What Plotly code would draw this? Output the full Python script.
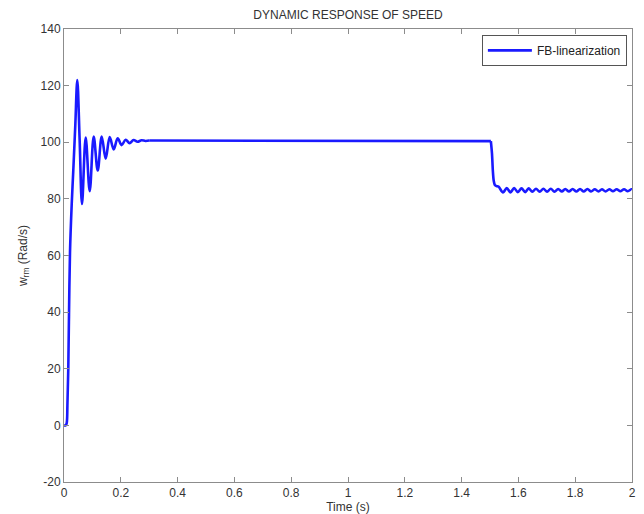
import plotly.graph_objects as go

# Speed response (rad/s)
# start-up transient
t_start = [0, 0.006, 0.0095, 0.012, 0.0151, 0.0176, 0.0211, 0.0271, 0.0327, 0.0398, 0.0468,
           0.055, 0.0634, 0.0764, 0.0905, 0.1046, 0.1187, 0.1328, 0.1468, 0.1609, 0.175,
           0.189, 0.203, 0.217, 0.231, 0.245, 0.259, 0.273, 0.287, 0.30]
w_start = [0, 0, 0.8, 7, 20, 39, 61, 78, 90, 106, 122,
           101, 78.2, 101.7, 82.7, 102.0, 90.0, 102.0, 94.2, 101.8, 97.5,
           101.4, 99.0, 100.9, 99.7, 100.8, 100.2, 100.7, 100.45, 100.6]
# steady state
t_mid = [0.30, 0.90, 0.901, 1.500, 1.503]
w_mid = [100.6, 100.6, 100.4, 100.4, 100.4]
# load step and ripple
t_end = [1.503, 1.507, 1.510, 1.513, 1.517, 1.523, 1.530, 1.546,
         1.559, 1.572, 1.585, 1.598, 1.611, 1.624, 1.636, 1.649, 1.662, 1.675,
         1.688, 1.701, 1.714, 1.727, 1.740, 1.753, 1.765, 1.778, 1.791, 1.804,
         1.817, 1.830, 1.843, 1.856, 1.869, 1.882, 1.894, 1.907, 1.920, 1.933,
         1.946, 1.959, 1.972, 1.985, 1.998, 2.0]
w_end = [100.4, 96.0, 90.0, 86.5, 84.9, 84.5, 84.3, 82.3,
         83.8, 82.3, 83.8, 82.4, 83.7, 82.4, 83.7, 82.5, 83.6, 82.5,
         83.6, 82.5, 83.6, 82.5, 83.5, 82.6, 83.5, 82.6, 83.5, 82.6,
         83.5, 82.6, 83.5, 82.6, 83.4, 82.6, 83.4, 82.6, 83.4, 82.7,
         83.4, 82.7, 83.4, 82.7, 83.4, 83.3]

x_ticks = [0, 0.2, 0.4, 0.6, 0.8, 1, 1.2, 1.4, 1.6, 1.8, 2]
y_ticks = [-20, 0, 20, 40, 60, 80, 100, 120, 140]
x_tick_labels = ["0", "0.2", "0.4", "0.6", "0.8", "1", "1.2", "1.4", "1.6", "1.8", "2"]
y_tick_labels = ["-20", "0", "20", "40", "60", "80", "100", "120", "140"]

line_style = dict(color="#1a1aff", width=2.6)

fig = go.Figure()
fig.add_trace(go.Scatter(x=t_start, y=w_start, mode="lines", name="FB-linearization",
                         line=dict(**line_style, shape="spline", smoothing=1.0),
                         legendgroup="fb", showlegend=True))
fig.add_trace(go.Scatter(x=t_mid, y=w_mid, mode="lines", name="FB-linearization",
                         line=dict(**line_style), legendgroup="fb", showlegend=False))
fig.add_trace(go.Scatter(x=t_end, y=w_end, mode="lines", name="FB-linearization",
                         line=dict(**line_style, shape="spline", smoothing=0.9),
                         legendgroup="fb", showlegend=False))

axis_common = dict(showgrid=False, zeroline=False, showline=True, linecolor="#8c8c8c",
                   linewidth=1, mirror="ticks", ticks="inside", ticklen=5,
                   tickcolor="#8c8c8c", tickfont=dict(size=12, color="#333333"),
                   automargin=False)

fig.update_layout(
    width=644, height=514,
    margin=dict(l=64, r=12, t=29, b=32),
    paper_bgcolor="white", plot_bgcolor="white",
    font=dict(family="Liberation Sans, Arial, sans-serif", color="#333333"),
    title=dict(text="DYNAMIC RESPONSE OF SPEED", x=(64 + 632) / 2 / 644, xanchor="center",
               y=1 - 15 / 514, yanchor="middle", font=dict(size=12, color="#333333")),
    xaxis=dict(range=[0, 2], tickvals=x_ticks, ticktext=x_tick_labels,
               title=dict(text="Time (s)", font=dict(size=12), standoff=2), **axis_common),
    yaxis=dict(range=[-20, 140], tickvals=y_ticks, ticktext=y_tick_labels,
               title=dict(text="w<sub>rm</sub> (Rad/s)", font=dict(size=12), standoff=10),
               **axis_common),
    legend=dict(x=0.991, y=0.987, xanchor="right", yanchor="top",
                bgcolor="white", bordercolor="#555555", borderwidth=1,
                itemwidth=44, font=dict(size=12, color="#222222")),
    showlegend=True,
)

fig.write_html("out.html")
